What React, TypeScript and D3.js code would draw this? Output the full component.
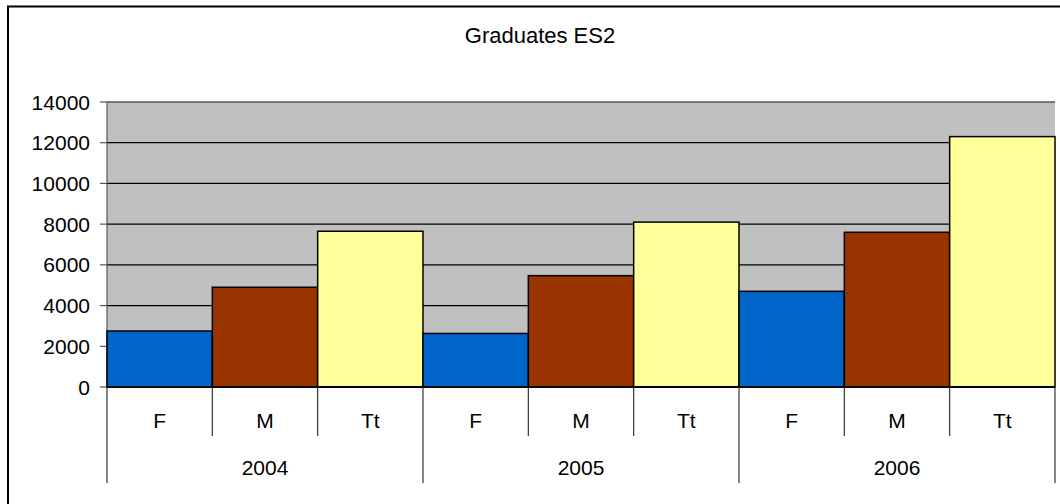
import React from "react";
import * as d3 from "d3";

const years = ["2004", "2005", "2006"];
const groups = ["F", "M", "Tt"];
const femaleValues = [2750, 2630, 4700];
const maleValues = [4900, 5470, 7600];
const totalValues = [7650, 8100, 12300];
const yTicks = [0, 2000, 4000, 6000, 8000, 10000, 12000, 14000];
const colors = { F: "#0066CC", M: "#993300", Tt: "#FFFF99" };

const W = 1060;
const H = 504;
const plot = { left: 107, right: 1055, top: 102, bottom: 387 };
const font = "Liberation Sans, Arial, sans-serif";

export default function App() {
  const cats = years.flatMap((y) => groups.map((g) => `${y}-${g}`));
  const values: Record<string, number> = {};
  years.forEach((y, i) => {
    values[`${y}-F`] = femaleValues[i];
    values[`${y}-M`] = maleValues[i];
    values[`${y}-Tt`] = totalValues[i];
  });

  const x = d3.scaleBand<string>().domain(cats).range([plot.left, plot.right]).padding(0);
  const y = d3.scaleLinear().domain([0, 14000]).range([plot.bottom, plot.top]);
  const bw = x.bandwidth();

  return (
    <div style={{ position: "fixed", left: 0, top: 0 }}>
      <svg width={W} height={H} style={{ display: "block", fontFamily: font }}>
        <rect x={0} y={0} width={W} height={H} fill="#fff" />
        {/* outer chart border (only top/left visible) */}
        <rect x={8} y={6.5} width={W + 20} height={H + 20} fill="none" stroke="#000" strokeWidth={2} />

        <text x={540} y={43} textAnchor="middle" fontSize={22} fill="#000">
          Graduates ES2
        </text>

        {/* plot area */}
        <rect
          x={plot.left}
          y={plot.top}
          width={plot.right - plot.left}
          height={plot.bottom - plot.top}
          fill="#C0C0C0"
        />
        {yTicks.slice(1, -1).map((t) => (
          <line key={t} x1={plot.left} x2={plot.right} y1={y(t)} y2={y(t)} stroke="#000" strokeWidth={1.2} />
        ))}
        <line x1={plot.left} x2={plot.right} y1={y(14000)} y2={y(14000)} stroke="#555" strokeWidth={1.5} />

        {/* y axis */}
        <line x1={plot.left} x2={plot.left} y1={plot.top} y2={plot.bottom} stroke="#555" strokeWidth={1.2} />
        {yTicks.map((t) => (
          <g key={t}>
            <line x1={100} x2={plot.left} y1={y(t)} y2={y(t)} stroke="#555" strokeWidth={1.2} />
            <text x={90} y={y(t)} dy="0.36em" textAnchor="end" fontSize={21} fill="#000">
              {t}
            </text>
          </g>
        ))}

        {/* bars */}
        {cats.map((c) => {
          const g = c.split("-")[1] as keyof typeof colors;
          return (
            <rect
              key={c}
              x={x(c)!}
              y={y(values[c])}
              width={bw}
              height={y(0) - y(values[c])}
              fill={colors[g]}
              stroke="#000"
              strokeWidth={1.5}
            />
          );
        })}

        {/* x axis */}
        <line x1={plot.left} x2={plot.right} y1={y(0)} y2={y(0)} stroke="#000" strokeWidth={2} />
        {cats.map((c, i) => (
          <line
            key={`t${c}`}
            x1={x(c)!}
            x2={x(c)!}
            y1={y(0)}
            y2={i % 3 === 0 ? 483 : 436}
            stroke="#333"
            strokeWidth={1.2}
          />
        ))}
        <line x1={plot.right} x2={plot.right} y1={y(0)} y2={483} stroke="#333" strokeWidth={1.2} />
        {cats.map((c) => (
          <text key={`l${c}`} x={x(c)! + bw / 2} y={420} dy="0.36em" textAnchor="middle" fontSize={21} fill="#000">
            {c.split("-")[1]}
          </text>
        ))}
        {years.map((yr) => (
          <text
            key={yr}
            x={x(`${yr}-F`)! + (bw * 3) / 2}
            y={467}
            dy="0.36em"
            textAnchor="middle"
            fontSize={21}
            fill="#000"
          >
            {yr}
          </text>
        ))}
      </svg>
    </div>
  );
}
